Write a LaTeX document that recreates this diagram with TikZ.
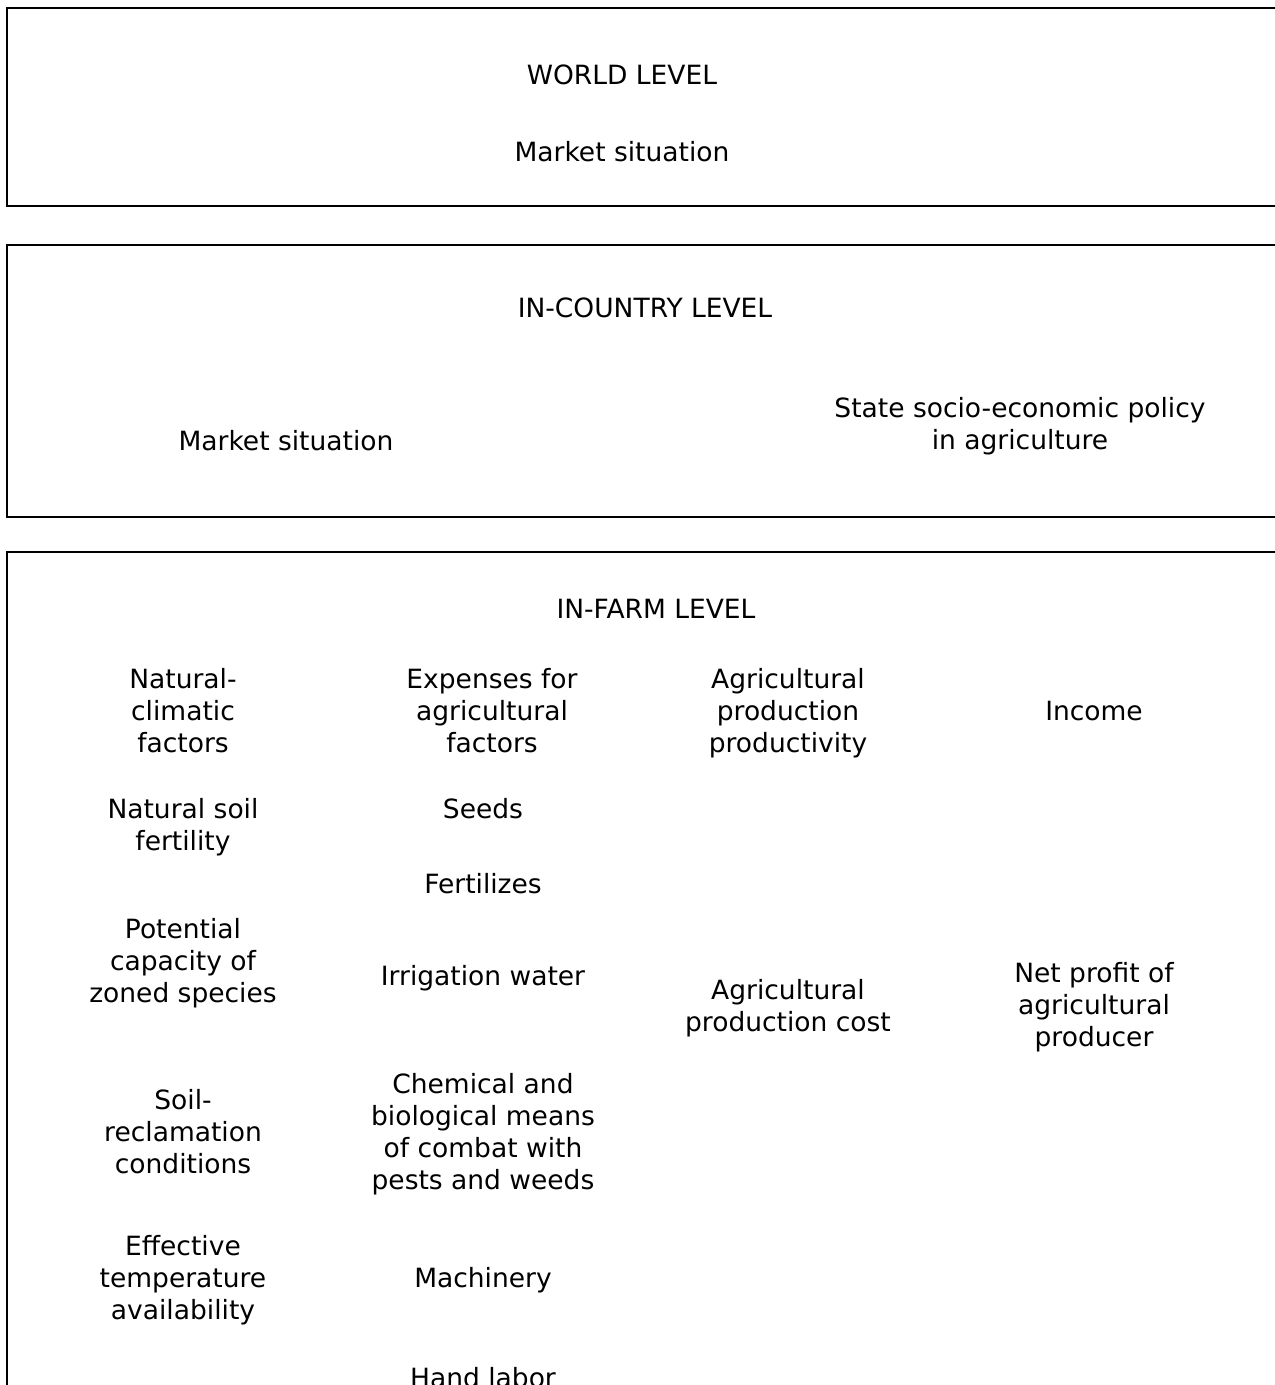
\documentclass[tikz,border=0pt]{standalone}
\usepackage{fontspec}
\setmainfont{DejaVu Sans}
\usepackage{tikz}
\usetikzlibrary{positioning}

\begin{document}
\begin{tikzpicture}[
  x=1pt, y=-1pt,
  levelbox/.style={draw, line width=2.4pt},
  lbl/.style={align=center, inner sep=0pt, font=\fontsize{26.5}{32}\selectfont},
]
\clip (0,0) rectangle (1275,1385);
\fill[white] (0,0) rectangle (1275,1385);

% the three levels, open to the right
\draw[levelbox] (1300,8) -| (7,206) -- (1300,206);
\draw[levelbox] (1300,245) -| (7,517) -- (1300,517);
\draw[levelbox] (1300,552) -| (7,1420);

\node[lbl] (world) at (622,75) {WORLD LEVEL};
\node[lbl] (worldmarket) at (622,152) {Market situation};

\node[lbl] (country) at (645,308) {IN-COUNTRY LEVEL};
\node[lbl] (countrymarket) at (286,441) {Market situation};
\node[lbl] (policy) at (1020,426.5) {State socio-economic policy\\in agriculture};

\node[lbl] (farm) at (656,609) {IN-FARM LEVEL};
\node[lbl] (natclim) at (183,711) {Natural-\\climatic\\factors};
\node[lbl] (soil) at (183,827) {Natural soil\\fertility};
\node[lbl] (potential) at (183,963) {Potential\\capacity of\\zoned species};
\node[lbl] (reclam) at (183,1132) {Soil-\\reclamation\\conditions};
\node[lbl] (temp) at (183,1280) {Effective\\temperature\\availability};

\node[lbl] (expenses) at (492,711) {Expenses for\\agricultural\\factors};
\node[lbl] (seeds) at (483,809) {Seeds};
\node[lbl] (fert) at (483,884) {Fertilizes};
\node[lbl] (irrig) at (483,978) {Irrigation water};
\node[lbl] (chem) at (483,1134) {Chemical and\\biological means\\of combat with\\pests and weeds};
\node[lbl] (mach) at (483,1280) {Machinery};
\node[lbl] (hand) at (483,1378) {Hand labor};

\node[lbl] (productivity) at (788,713) {Agricultural\\production\\productivity};
\node[lbl] (cost) at (788,1008) {Agricultural\\production cost};

\node[lbl] (income) at (1094,711) {Income};
\node[lbl] (profit) at (1094,1007) {Net profit of\\agricultural\\producer};
\end{tikzpicture}
\end{document}
